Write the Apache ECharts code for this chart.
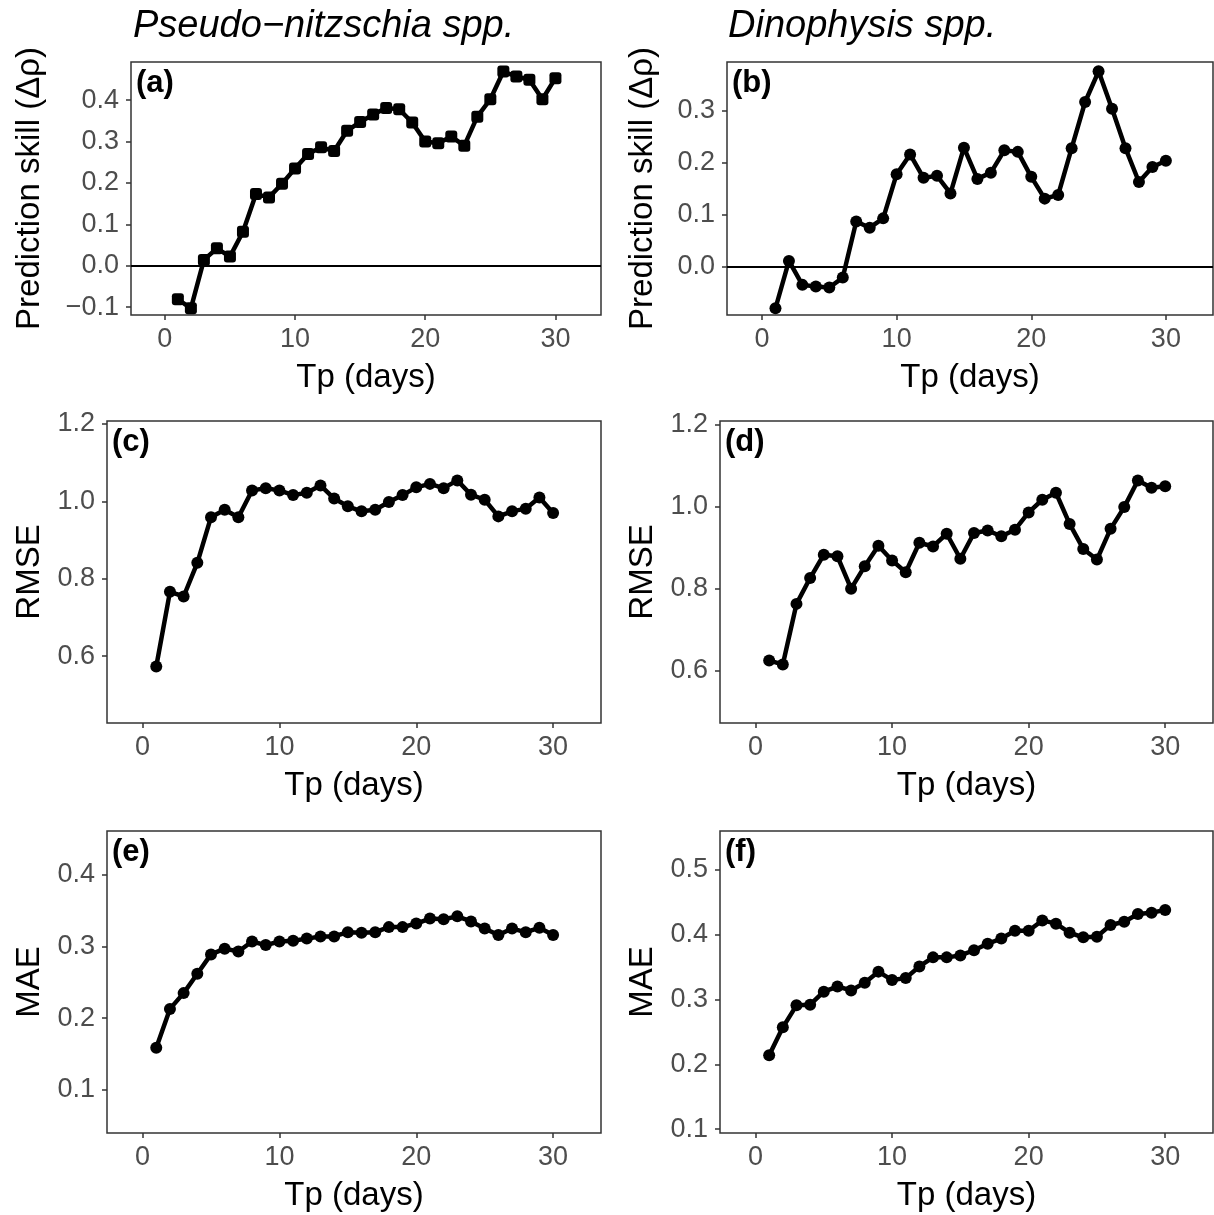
<!DOCTYPE html>
<html>
<head>
<meta charset="utf-8">
<script src="https://cdn.jsdelivr.net/npm/echarts@6/dist/echarts.min.js"></script>
<style>
html,body{margin:0;padding:0;background:#fff;}
#chart{width:1214px;height:1215px;}
</style>
</head>
<body>
<div id="chart"></div>
<script>
// ---- data ----
const tp = [1,2,3,4,5,6,7,8,9,10,11,12,13,14,15,16,17,18,19,20,21,22,23,24,25,26,27,28,29,30];
const skillPN = [-0.081,-0.103,0.014,0.042,0.022,0.082,0.173,0.165,0.198,0.235,0.270,0.286,0.277,0.326,0.347,0.365,0.381,0.378,0.346,0.300,0.296,0.312,0.290,0.360,0.402,0.469,0.457,0.449,0.402,0.453];
const skillDino = [-0.080,0.011,-0.035,-0.038,-0.040,-0.021,0.087,0.075,0.093,0.178,0.216,0.171,0.175,0.141,0.229,0.169,0.181,0.224,0.221,0.173,0.131,0.138,0.228,0.317,0.376,0.304,0.228,0.163,0.192,0.204];
const rmsePN = [0.573,0.766,0.754,0.841,0.959,0.978,0.959,1.028,1.034,1.028,1.016,1.022,1.041,1.007,0.987,0.974,0.978,0.998,1.016,1.036,1.045,1.034,1.054,1.017,1.004,0.961,0.974,0.981,1.010,0.970];
const rmseDino = [0.624,0.614,0.762,0.825,0.882,0.878,0.799,0.854,0.904,0.868,0.839,0.911,0.902,0.933,0.872,0.935,0.941,0.927,0.943,0.985,1.016,1.033,0.957,0.896,0.870,0.945,0.998,1.063,1.045,1.049];
const maePN = [0.159,0.213,0.235,0.262,0.289,0.297,0.293,0.307,0.302,0.307,0.308,0.311,0.314,0.314,0.320,0.319,0.320,0.327,0.327,0.332,0.339,0.338,0.342,0.335,0.325,0.316,0.325,0.320,0.326,0.316];
const maeDino = [0.214,0.257,0.291,0.292,0.312,0.320,0.314,0.326,0.343,0.330,0.333,0.351,0.365,0.365,0.368,0.376,0.386,0.394,0.406,0.406,0.422,0.417,0.403,0.396,0.397,0.415,0.420,0.432,0.434,0.438];

const xTicks = [0,10,20,30];
const yTicksA = [-0.1,0,0.1,0.2,0.3,0.4];
const yTicksB = [0,0.1,0.2,0.3];
const yTicksC = [0.6,0.8,1.0,1.2];
const yTicksD = [0.6,0.8,1.0,1.2];
const yTicksE = [0.1,0.2,0.3,0.4];
const yTicksF = [0.1,0.2,0.3,0.4,0.5];

const titles = ['Pseudo\u2212nitzschia spp.', 'Dinophysis spp.'];
const panelLabels = ['(a)','(b)','(c)','(d)','(e)','(f)'];
const yNames = ['Prediction skill (\u0394\u03c1)','Prediction skill (\u0394\u03c1)','RMSE','RMSE','MAE','MAE'];
const xName = 'Tp (days)';

// ---- layout ----
const FONT = "'Liberation Sans', Arial, Helvetica, sans-serif";
const panels = [
  {grid:{left:131, top:62, width:470, height:253}, y:[-0.119,0.492], ticks:yTicksA, vals:skillPN, sym:'roundRect', gap:85, zero:true},
  {grid:{left:727, top:62, width:486, height:253}, y:[-0.093,0.394], ticks:yTicksB, vals:skillDino, sym:'circle', gap:68, zero:true},
  {grid:{left:107, top:421, width:494, height:302}, y:[0.427,1.2075], ticks:yTicksC, vals:rmsePN, sym:'circle', gap:61, zero:false},
  {grid:{left:720, top:421, width:493, height:302}, y:[0.4715,1.208], ticks:yTicksD, vals:rmseDino, sym:'circle', gap:61, zero:false},
  {grid:{left:107, top:831, width:494, height:302}, y:[0.040,0.461], ticks:yTicksE, vals:maePN, sym:'circle', gap:61, zero:false},
  {grid:{left:720, top:831, width:493, height:302}, y:[0.094,0.560], ticks:yTicksF, vals:maeDino, sym:'circle', gap:61, zero:false}
];

const fmt = v => (v < -1e-9 ? '\u2212' : '') + Math.abs(v).toFixed(1);

const grids = [], xAxes = [], yAxes = [], series = [], graphics = [];
panels.forEach((p, i) => {
  grids.push(Object.assign({show:true, borderColor:'#333', borderWidth:1.5, backgroundColor:'#fff'}, p.grid));
  xAxes.push({
    type:'value', gridIndex:i, min:-2.6, max:33.5, position:'bottom',
    axisLine:{show:false, onZero:false},
    axisTick:{show:true, length:5, lineStyle:{color:'#333', width:1.5}, customValues:xTicks},
    axisLabel:{show:true, margin:11, fontSize:27, color:'#4d4d4d', fontFamily:FONT, customValues:xTicks, formatter:v=>String(v)},
    splitLine:{show:false},
    name:xName, nameLocation:'middle', nameGap:46,
    nameTextStyle:{fontSize:33, color:'#000', fontFamily:FONT}
  });
  yAxes.push({
    type:'value', gridIndex:i, min:p.y[0], max:p.y[1], position:'left',
    axisLine:{show:false, onZero:false},
    axisTick:{show:true, length:5, lineStyle:{color:'#333', width:1.5}, customValues:p.ticks},
    axisLabel:{show:true, margin:12, fontSize:27, color:'#4d4d4d', fontFamily:FONT, customValues:p.ticks, formatter:fmt},
    splitLine:{show:false},
    name:yNames[i], nameLocation:'middle', nameGap:p.gap, nameRotate:90,
    nameTextStyle:{fontSize:33, color:'#000', fontFamily:FONT}
  });
  const s = {
    type:'line', xAxisIndex:i, yAxisIndex:i,
    data: tp.map((t, k) => [t, p.vals[k]]),
    symbol:p.sym, symbolSize:12, showSymbol:true,
    lineStyle:{color:'#000', width:4.5},
    itemStyle:{color:'#000'},
    silent:true, z:5
  };
  if (p.zero) {
    s.markLine = {silent:true, symbol:'none', label:{show:false},
      lineStyle:{color:'#000', width:1.8, type:'solid'}, data:[{yAxis:0}]};
  }
  series.push(s);
  graphics.push({
    type:'text', left:p.grid.left + 5, top:p.grid.top + 6, z:10,
    style:{text:panelLabels[i], font:"bold 31px " + FONT, fill:'#000'}
  });
});

graphics.push({type:'text', left:133, top:7, style:{text:titles[0], font:"italic 38px " + FONT, fill:'#000'}});
graphics.push({type:'text', left:728, top:7, style:{text:titles[1], font:"italic 38px " + FONT, fill:'#000'}});

const chart = echarts.init(document.getElementById('chart'), null, {renderer:'canvas'});
chart.setOption({
  animation:false,
  backgroundColor:'#fff',
  grid:grids, xAxis:xAxes, yAxis:yAxes, series:series, graphic:graphics
});
</script>
</body>
</html>
